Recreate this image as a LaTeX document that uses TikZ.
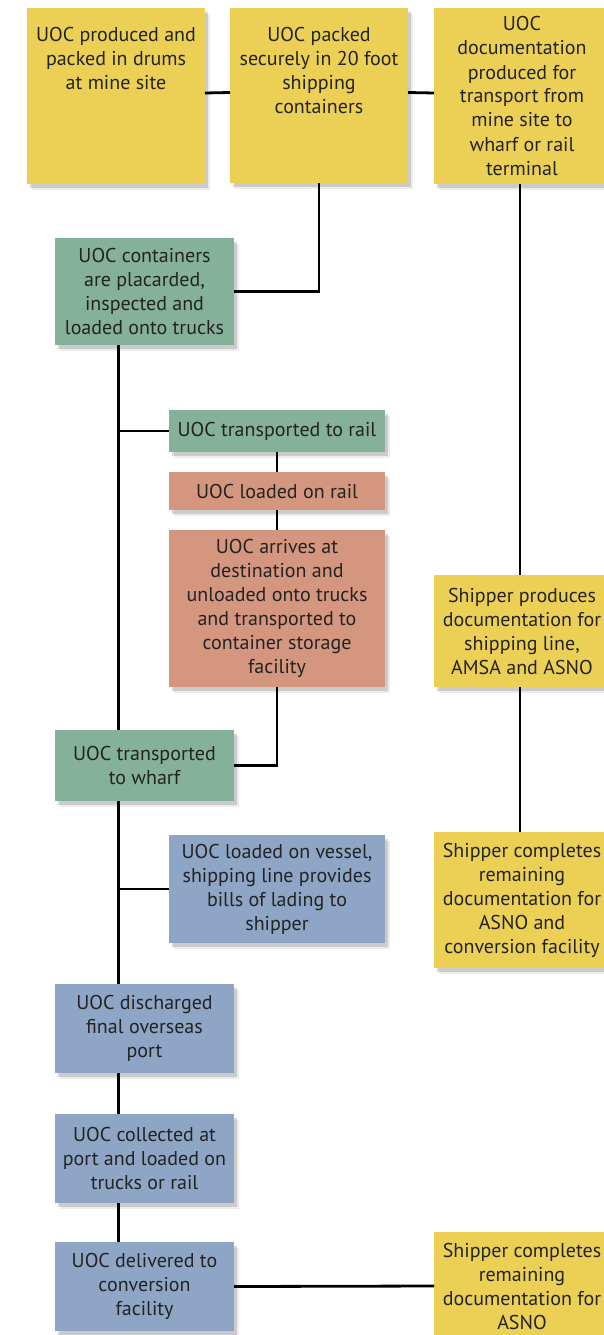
\documentclass[tikz,border=0pt]{standalone}
\usepackage{fontspec}
\setmainfont{PT Sans}
\usetikzlibrary{shadows,calc}
\definecolor{cyel}{RGB}{236,208,86}
\definecolor{cgrn}{RGB}{133,176,153}
\definecolor{csal}{RGB}{212,150,126}
\definecolor{cblu}{RGB}{142,165,197}
\definecolor{ctxt}{RGB}{35,35,35}
\tikzset{
  box/.style={rectangle, inner sep=0pt, outer sep=0pt, align=center, text=ctxt,
    font=\fontsize{20}{24}\selectfont,
    drop shadow={opacity=0.15, shadow xshift=5pt, shadow yshift=-6pt},
    drop shadow={opacity=0.3, shadow xshift=3pt, shadow yshift=-4pt}},
  ybox/.style={box, fill=cyel},
  gbox/.style={box, fill=cgrn},
  sbox/.style={box, fill=csal},
  bbox/.style={box, fill=cblu},
  txt/.style={inner sep=0pt, align=center, text=ctxt, font=\fontsize{20}{24}\selectfont},
  conn/.style={line width=2.8pt, black}
}
\begin{document}
\begin{tikzpicture}[x=1pt,y=1pt]
\useasboundingbox (0,0) rectangle (604,-1335);
\clip (0,0) rectangle (604,-1335);
\fill[white] (0,0) rectangle (604,-1335);
% top row
\node[ybox, minimum width=178, minimum height=176, anchor=north west] (a1) at (27,-8) {};
\node[txt, anchor=north] at (116,-27) {UOC produced and\\packed in drums\\at mine site};
\node[ybox, minimum width=178, minimum height=175, anchor=north west] (a2) at (230,-8) {};
\node[txt, anchor=north] at (319,-27) {UOC packed\\securely in 20 foot\\shipping\\containers};
\node[ybox, minimum width=176, minimum height=176, anchor=north west] (a3) at (434,-8) {UOC\\documentation\\produced for\\transport from\\mine site to\\wharf or rail\\terminal};
% green / salmon / blue column
\node[gbox, minimum width=179, minimum height=107, anchor=north west] (b1) at (55,-238) {UOC containers\\are placarded,\\inspected and\\loaded onto trucks};
\node[gbox, minimum width=216, minimum height=42, anchor=north west] (b2) at (169,-410) {UOC transported to rail};
\node[sbox, minimum width=216, minimum height=38, anchor=north west] (r1) at (169,-472) {UOC loaded on rail};
\node[sbox, minimum width=216, minimum height=157, anchor=north west] (r2) at (169,-530) {UOC arrives at\\destination and\\unloaded onto trucks\\and transported to\\container storage\\facility};
\node[gbox, minimum width=179, minimum height=71, anchor=north west] (w) at (55,-730) {UOC transported\\to wharf};
\node[bbox, minimum width=216, minimum height=108, anchor=north west] (v1) at (169,-835) {UOC loaded on vessel,\\shipping line provides\\bills of lading to\\shipper};
\node[bbox, minimum width=179, minimum height=89, anchor=north west] (d1) at (55,-984) {UOC discharged\\final overseas\\port};
\node[bbox, minimum width=179, minimum height=89, anchor=north west] (d2) at (55,-1114) {UOC collected at\\port and loaded on\\trucks or rail};
\node[bbox, minimum width=179, minimum height=89, anchor=north west] (d3) at (55,-1242) {UOC delivered to\\conversion\\facility};
% right column
\node[ybox, minimum width=176, minimum height=112, anchor=north west] (s1) at (434,-575) {Shipper produces\\documentation for\\shipping line,\\AMSA and ASNO};
\node[ybox, minimum width=176, minimum height=136, anchor=north west] (s2) at (434,-832) {Shipper completes\\remaining\\documentation for\\ASNO and\\conversion facility};
\node[ybox, minimum width=176, minimum height=108, anchor=north west] (s3) at (434,-1232) {Shipper completes\\remaining\\documentation for\\ASNO};
% connectors
\draw[conn] ([yshift=3]a1.east) -- ([yshift=3]a2.west);
\draw[conn] ([yshift=3]a2.east) -- ([yshift=3]a3.west);
\draw[conn] (a2.south) |- (b1.east);
\draw[conn] ([xshift=-2]a3.south) -- ([xshift=-2]s1.north);
\draw[conn] ([xshift=-2]s1.south) -- ([xshift=-2]s2.north);
\draw[conn] ([xshift=-26]b1.south) -- ([xshift=-26]w.north);
\coordinate (j1) at ($(b2.west -| w.north)+(-26,0)$);
\draw[conn] (b2.west) -- (j1);
\draw[conn] (b2.south) -- (r1.north);
\draw[conn] (r1.south) -- (r2.north);
\draw[conn] (r2.south) |- (w.east);
\draw[conn] ([xshift=-26]w.south) -- ([xshift=-26]d1.north);
\coordinate (j2) at ($(v1.west -| w.south)+(-26,0)$);
\draw[conn] (v1.west) -- (j2);
\draw[conn] ([xshift=-26]d1.south) -- ([xshift=-26]d2.north);
\draw[conn] ([xshift=-26]d2.south) -- ([xshift=-26]d3.north);
\draw[conn] (d3.east) -- (s3.west);
\end{tikzpicture}
\end{document}
